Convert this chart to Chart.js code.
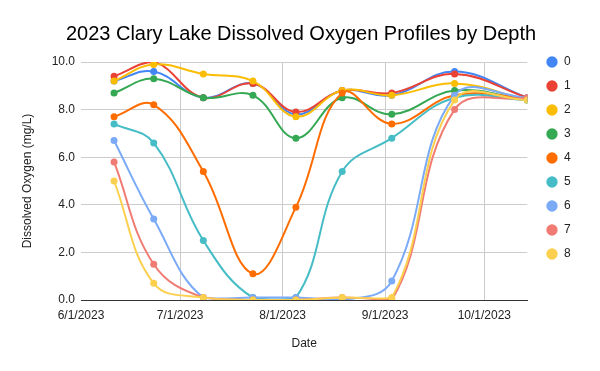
<!DOCTYPE html>
<html>
<head>
<meta charset="utf-8">
<script src="https://cdn.jsdelivr.net/npm/chart.js@4/dist/chart.umd.min.js"></script>
<style>
  html, body { margin: 0; padding: 0; background: #fff; }
  #wrap { width: 600px; height: 371px; }
</style>
</head>
<body>
<div id="wrap"><canvas id="chart" width="600" height="371"></canvas></div>
<script>
// sample dates
const dates = ["2023-06-11", "2023-06-23", "2023-07-08", "2023-07-23", "2023-08-05",
               "2023-08-19", "2023-09-03", "2023-09-22", "2023-10-14"];
const tickDates = ["2023-06-01", "2023-07-01", "2023-08-01", "2023-09-01", "2023-10-01"];
const depthLabels = ["0", "1", "2", "3", "4", "5", "6", "7", "8"];

// dissolved oxygen (mg/L), one array per depth
const depth0 = [9.2, 9.6, 8.5, 9.1, 7.8, 8.8, 8.6, 9.6, 8.5];
const depth1 = [9.4, 10.0, 8.5, 9.1, 7.9, 8.8, 8.7, 9.5, 8.5];
const depth2 = [9.2, 9.9, 9.5, 9.2, 7.7, 8.8, 8.6, 9.1, 8.4];
const depth3 = [8.7, 9.3, 8.5, 8.6, 6.8, 8.5, 7.8, 8.8, 8.4];
const depth4 = [7.7, 8.2, 5.4, 1.1, 3.9, 8.7, 7.4, 8.6, 8.5];
const depth5 = [7.4, 6.6, 2.5, 0.1, 0.1, 5.4, 6.8, 8.5, 8.4];
const depth6 = [6.7, 3.4, 0.1, 0.1, 0.1, 0.0, 0.8, 8.6, 8.5];
const depth7 = [5.8, 1.5, 0.1, 0.0, 0.0, 0.1, 0.0, 8.0, 8.5];
const depth8 = [5.0, 0.7, 0.1, 0.0, 0.0, 0.1, 0.1, 8.4, 8.4];

const colors = ["#4285F4", "#EA4335", "#FBBC04", "#34A853", "#FF6D01",
                "#46BDC6", "#7BAAF7", "#F07B72", "#FCD04F"];

const series = [depth0, depth1, depth2, depth3, depth4, depth5, depth6, depth7, depth8];

// days since 6/1/2023
const origin = Date.UTC(2023, 5, 1);
function toDay(s) {
  const [y, m, d] = s.split("-").map(Number);
  return (Date.UTC(y, m - 1, d) - origin) / 86400000;
}
function fmtDay(n) {
  const d = new Date(origin + n * 86400000);
  return (d.getUTCMonth() + 1) + "/" + d.getUTCDate() + "/" + d.getUTCFullYear();
}

const xs = dates.map(toDay);
const tickDays = tickDates.map(toDay);

Chart.defaults.font.family = "'Liberation Sans', Arial, sans-serif";
Chart.defaults.font.size = 12;
Chart.defaults.color = "#222";

const datasets = series.map((vals, i) => ({
  label: depthLabels[i],
  data: vals.map((v, j) => ({ x: xs[j], y: v })),
  borderColor: colors[i],
  backgroundColor: colors[i],
  pointBackgroundColor: colors[i],
  pointBorderWidth: 0,
  pointRadius: 3.5,
  borderWidth: 2,
  tension: 0.4,
  order: series.length - i // later depths drawn on top
}));

// put the legend and title where the sheet had them
const blockPlace = {
  id: "blockPlace",
  afterLayout(chart) {
    const lg = chart.legend;
    const dx = 534 - lg.left, dy = 44 - lg.top;
    lg.left += dx; lg.right += dx;
    lg.top += dy;
    const tb = chart.titleBlock;
    tb.left += 14; tb.right += 14;
  }
};

new Chart(document.getElementById("chart"), {
  type: "line",
  data: { datasets },
  plugins: [blockPlace],
  options: {
    responsive: false,
    animation: false,
    devicePixelRatio: 1,
    layout: { padding: { left: 0, right: 26, top: 0, bottom: 0 } },
    plugins: {
      title: {
        display: true,
        text: "2023 Clary Lake Dissolved Oxygen Profiles by Depth",
        color: "#000",
        font: { size: 20, weight: "normal" },
        padding: { top: 22, bottom: 16 }
      },
      legend: {
        position: "right",
        align: "start",
        labels: {
          usePointStyle: true,
          pointStyle: "circle",
          boxWidth: 12,
          boxHeight: 8,
          padding: 12,
          color: "#222",
          font: { size: 12 },
          sort: (a, b) => a.datasetIndex - b.datasetIndex,
          generateLabels(chart) {
            const items = Chart.defaults.plugins.legend.labels.generateLabels(chart);
            items.forEach(it => { it.lineWidth = 0; });
            return items;
          }
        }
      },
      tooltip: { enabled: false }
    },
    scales: {
      x: {
        type: "linear",
        min: tickDays[0],
        max: xs[xs.length - 1],
        afterBuildTicks(scale) {
          scale.ticks = tickDays.map(v => ({ value: v }));
        },
        afterFit(scale) { scale.height = 71; },
        ticks: {
          padding: 8,
          maxRotation: 0,
          color: "#222",
          callback: v => fmtDay(v)
        },
        grid: {
          drawTicks: false,
          color: ctx => (ctx.index === 0 ? "rgba(0,0,0,0)" : "#cccccc")
        },
        border: { display: true, color: "#333", width: 1 },
        title: {
          display: true,
          text: "Date",
          color: "#222",
          font: { size: 12 },
          padding: { top: 0, bottom: 20 }
        }
      },
      y: {
        min: 0,
        max: 10,
        afterFit(scale) { scale.width = 81; },
        ticks: {
          stepSize: 2,
          padding: 6,
          color: "#222",
          callback: v => Number(v).toFixed(1)
        },
        grid: {
          drawTicks: false,
          color: ctx => (ctx.tick.value === 0 ? "#333" : "#cccccc")
        },
        border: { display: false },
        title: {
          display: true,
          text: "Dissolved Oxygen (mg/L)",
          color: "#222",
          font: { size: 12 },
          padding: { top: 20, bottom: 0 }
        }
      }
    }
  }
});
</script>
</body>
</html>
